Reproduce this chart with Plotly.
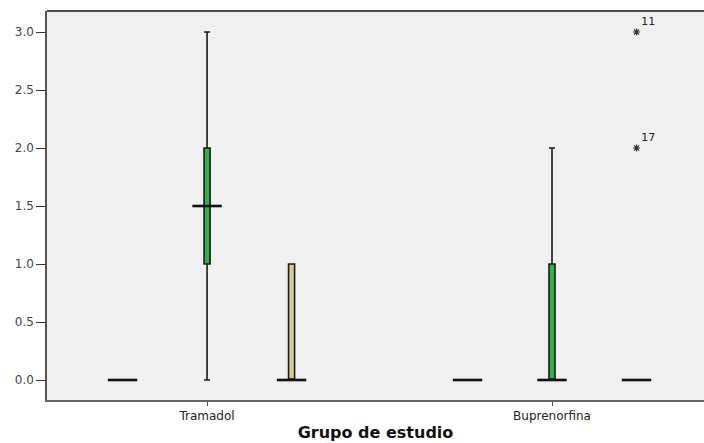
import plotly.graph_objects as go

# Groups on the x axis and the offset of each of the three series inside a group
groups = ["Tramadol", "Buprenorfina"]
series_offsets = [-0.245, 0.0, 0.245]
series_colors = ["#5b7fc2", "#2db34a", "#d5cb92"]

# Five-number summaries per series, one value per group
q1 = [[0, 0], [1.0, 0], [0, 0]]
median = [[0, 0], [1.5, 0], [0, 0]]
q3 = [[0, 0], [2.0, 1.0], [1.0, 0]]
lowerfence = [[0, 0], [0, 0], [0, 0]]
upperfence = [[0, 0], [3.0, 2.0], [1.0, 0]]

# Extreme cases (group index, series index, value, case label)
outlier_group = [1, 1]
outlier_series = [2, 2]
outlier_value = [3.0, 2.0]
outlier_label = ["11", "17"]

y_ticks = [0.0, 0.5, 1.0, 1.5, 2.0, 2.5, 3.0]

FONT = "DejaVu Sans, Verdana, sans-serif"

fig = go.Figure()

for s, off in enumerate(series_offsets):
    for g in range(len(groups)):
        pos = g + 1 + off
        fig.add_trace(go.Box(
            x=[pos],
            q1=[q1[s][g]], median=[median[s][g]], q3=[q3[s][g]],
            lowerfence=[lowerfence[s][g]], upperfence=[upperfence[s][g]],
            width=0.0175, whiskerwidth=1,
            fillcolor=series_colors[s],
            line=dict(color="#1a1a1a", width=1.6),
            boxpoints=False, hoverinfo="skip", showlegend=False,
        ))

# Median bars drawn wider than the boxes
med_x, med_y = [], []
for s, off in enumerate(series_offsets):
    for g in range(len(groups)):
        med_x.append(g + 1 + off)
        med_y.append(median[s][g])
fig.add_trace(go.Scatter(
    x=med_x, y=med_y, mode="markers",
    marker=dict(symbol="line-ew", size=21, line=dict(color="#111111", width=2.6)),
    hoverinfo="skip", showlegend=False,
))

# Extreme values with their case numbers
fig.add_trace(go.Scatter(
    x=[outlier_group[i] + 1 + series_offsets[outlier_series[i]] for i in range(len(outlier_value))],
    y=outlier_value,
    mode="markers+text",
    marker=dict(symbol="asterisk-open", size=6, color="#333333",
                line=dict(color="#333333", width=1.2)),
    text=outlier_label,
    textposition="top right",
    textfont=dict(family=FONT, size=11, color="#222222"),
    hoverinfo="skip", showlegend=False,
))

# Top frame line of the plotting area
fig.add_shape(type="line", xref="paper", yref="paper", x0=0, x1=1, y0=1, y1=1,
              line=dict(color="#111111", width=1.5))

fig.update_layout(
    width=704, height=443,
    margin=dict(l=47, r=0, t=11, b=43),
    paper_bgcolor="white",
    plot_bgcolor="#f0f0f0",
    font=dict(family=FONT, size=12, color="#333333"),
    xaxis=dict(
        range=[0.536, 2.4406],
        tickmode="array", tickvals=[1, 2], ticktext=groups,
        ticks="outside", ticklen=4, tickcolor="#555555",
        showgrid=False, zeroline=False,
        showline=True, linecolor="#666666", linewidth=1.5,
        tickfont=dict(family=FONT, size=12, color="#222222"),
        title=dict(text="<b>Grupo de estudio</b>",
                   font=dict(family=FONT, size=16, color="#111111"), standoff=5),
    ),
    yaxis=dict(
        range=[-0.1724, 3.181],
        tickmode="array", tickvals=y_ticks, tickformat=".1f",
        ticks="outside", ticklen=9, tickcolor="#333333",
        showgrid=False, zeroline=False,
        showline=True, linecolor="#555555", linewidth=1.5,
        tickfont=dict(family=FONT, size=12, color="#444444"),
    ),
)

fig.write_html("out.html")
